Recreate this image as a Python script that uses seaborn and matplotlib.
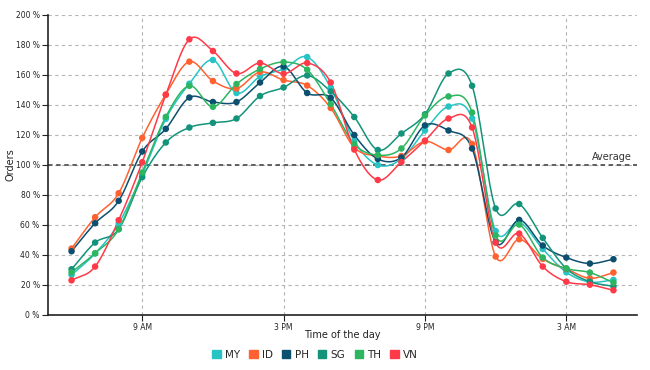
import numpy as np
import pandas as pd
import matplotlib
matplotlib.use("Agg")
import matplotlib.pyplot as plt
import seaborn as sns

# hours of the day, 6 AM to 5 AM next day (24 = midnight)
hours = list(range(6, 30))

my = [26.7, 41, 61, 93.7, 130.8, 154.2, 170, 148, 159, 164, 172, 151.6,
      116, 100, 104, 123, 139, 131, 56, 62, 44, 28.5, 22, 23.4]
id_ = [44.3, 65.2, 81.2, 118.1, 147, 168.9, 156, 151, 162, 156.6, 153, 138,
       111.7, 106, 106, 115.7, 110, 114, 39, 50.5, 37.4, 30.7, 24.5, 28.3]
ph = [42.5, 61.2, 76.1, 109, 124.1, 145, 142, 142, 155, 165.7, 148, 144.8,
      120, 104, 105, 126.4, 123, 111, 48.5, 63.4, 46.3, 38.3, 34.3, 37.2]
sg = [30.5, 48.3, 57.2, 91.9, 115, 125, 128.1, 131, 146, 151.7, 159.7, 149,
      132, 110, 121, 133.8, 161, 152.8, 71, 74, 51.4, 31, 22.2, 19.1]
th = [28.5, 41.2, 57.2, 95, 132.1, 152.8, 138.8, 154, 164, 168.6, 163.5, 140.6,
      114, 106.6, 111, 133, 145.7, 135, 53, 60.3, 38.3, 31, 28.3, 21.6]
vn = [23.1, 32.3, 63.2, 101.9, 146.8, 183.8, 176, 161, 168, 160.8, 168, 155,
      110.3, 90, 102, 116.3, 131, 125, 48.3, 54.3, 32.3, 22.2, 20.2, 16.5]

countries = ["MY", "ID", "PH", "SG", "TH", "VN"]
series = [my, id_, ph, sg, th, vn]
colors = ["#27C4C4", "#FF6130", "#0C4F6E", "#13937A", "#2DB560", "#FF3A48"]

tick_hours = [9, 15, 21, 27]
tick_labels = ["9 AM", "3 PM", "9 PM", "3 AM"]
y_ticks = list(range(0, 201, 20))

df = pd.DataFrame({"hour": hours * len(countries),
                   "orders": sum(series, []),
                   "country": np.repeat(countries, len(hours))})


def catmull_rom(x, y, n=20):
    # smooth curve through the points (like d3 curveCardinal)
    x = np.asarray(x, float)
    y = np.asarray(y, float)
    px = np.concatenate([[2 * x[0] - x[1]], x, [2 * x[-1] - x[-2]]])
    py = np.concatenate([[2 * y[0] - y[1]], y, [2 * y[-1] - y[-2]]])
    xs, ys = [], []
    t = np.linspace(0, 1, n, endpoint=False)
    for i in range(1, len(px) - 2):
        for p, out in ((px, xs), (py, ys)):
            p0, p1, p2, p3 = p[i - 1], p[i], p[i + 1], p[i + 2]
            out.append(0.5 * (2 * p1 + (-p0 + p2) * t
                              + (2 * p0 - 5 * p1 + 4 * p2 - p3) * t ** 2
                              + (-p0 + 3 * p1 - 3 * p2 + p3) * t ** 3))
    xs.append([x[-1]])
    ys.append([y[-1]])
    return np.concatenate(xs), np.concatenate(ys)


smooth = []
for c in countries:
    sub = df[df.country == c]
    sx, sy = catmull_rom(sub.hour, sub.orders)
    smooth.append(pd.DataFrame({"hour": sx, "orders": sy, "country": c}))
smooth = pd.concat(smooth)

sns.set_style("white")
plt.rcParams['font.family'] = ['DejaVu Sans']

fig = plt.figure(figsize=(6.5, 3.7), dpi=100)
ax = fig.add_axes([48 / 650, 1 - 315 / 370, 589 / 650, 300 / 370])

ax.set_xlim(5, 30)
ax.set_ylim(0, 200)
ax.set_xticks(tick_hours)
ax.set_xticklabels(tick_labels)
ax.set_yticks(y_ticks)
ax.set_yticklabels([f"{v} %" for v in y_ticks])
ax.grid(True, color="#b5b5b5", linestyle=(0, (3, 3)), linewidth=0.8)
ax.set_axisbelow(True)

# average line
ax.axhline(100, color="#555555", linestyle=(0, (2.5, 2)), linewidth=1.3, zorder=1)
ax.text(29.8, 102, "Average", ha="right", va="bottom", fontsize=7, color="#333333")

palette = dict(zip(countries, colors))
sns.lineplot(data=smooth, x="hour", y="orders", hue="country", palette=palette,
             sort=False, linewidth=1.1, legend=False, ax=ax, zorder=3)
sns.scatterplot(data=df, x="hour", y="orders", hue="country", palette=palette,
                s=22, edgecolor="none", legend=False, ax=ax, zorder=4)

for s in ["top", "right"]:
    ax.spines[s].set_visible(False)
ax.spines["left"].set_color("#222222")
ax.spines["bottom"].set_color("#222222")
ax.spines["left"].set_linewidth(1.2)
ax.spines["bottom"].set_linewidth(1.2)
ax.tick_params(axis="both", labelsize=5.5, colors="#222222", length=4, width=0.8,
               direction="out", bottom=True, left=True, pad=2)

ax.set_xlabel("Time of the day", fontsize=7, color="#222222")
ax.set_ylabel("Orders", fontsize=7, color="#222222")
ax.xaxis.set_label_coords(0.5, -20 / 300, transform=ax.transAxes)
ax.yaxis.set_label_coords(-37 / 589, 0.5, transform=ax.transAxes)
ax.xaxis.label.set_va("center")
ax.yaxis.label.set_va("center")

handles = [plt.Rectangle((0, 0), 1, 1, color=c) for c in colors]
fig.legend(handles, countries, loc="center", bbox_to_anchor=(315 / 650, 1 - 355 / 370),
           ncol=6, frameon=False, fontsize=7.5, handlelength=0.8, handleheight=0.8,
           handletextpad=0.4, columnspacing=0.9)

fig.savefig("out.png", dpi=100)
